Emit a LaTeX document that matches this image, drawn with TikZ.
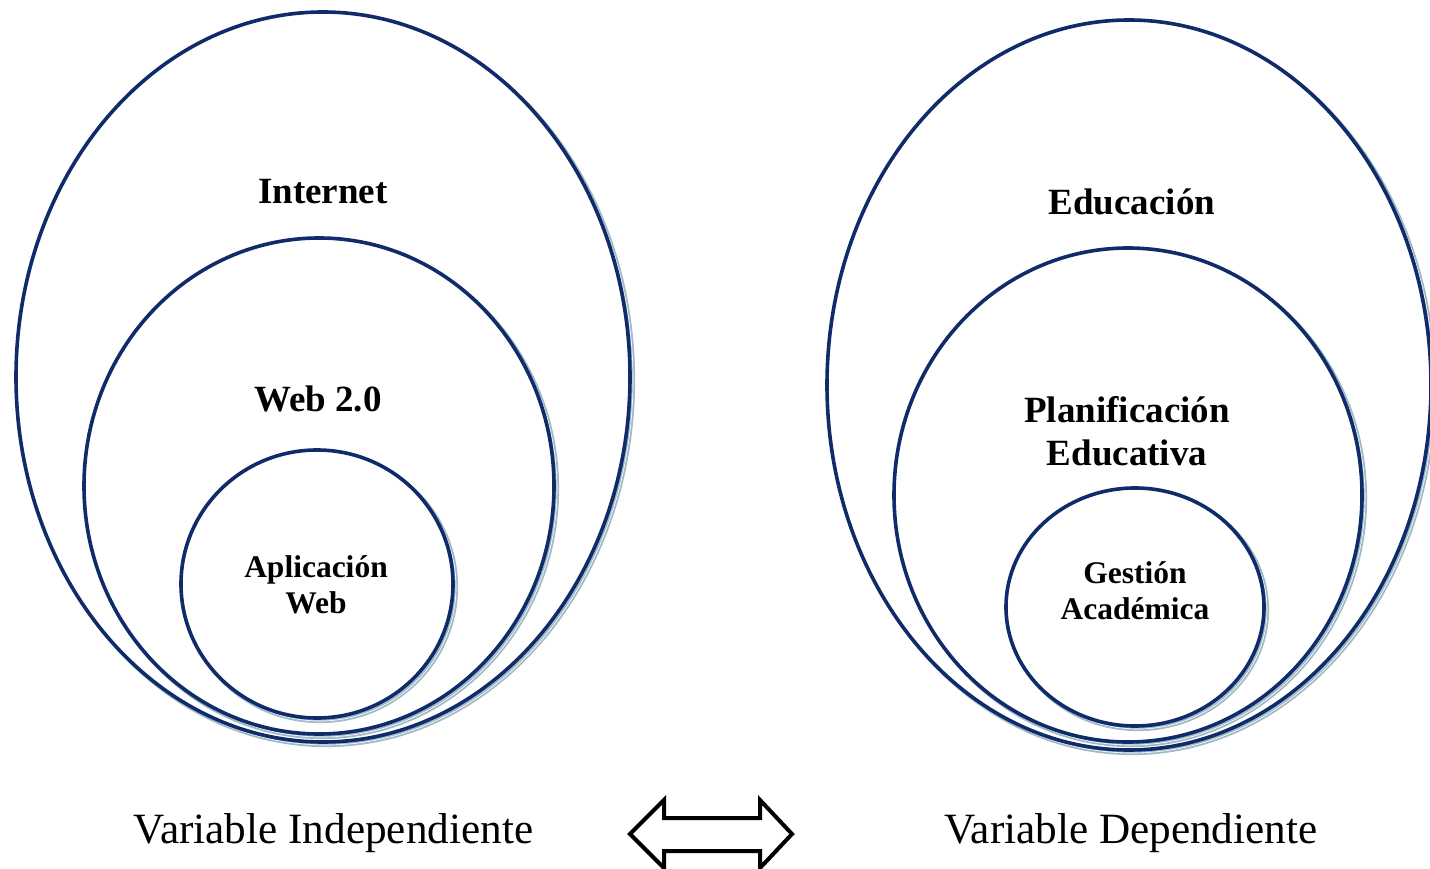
\documentclass[tikz,border=0pt]{standalone}
\usepackage{fontspec}
\setmainfont{Liberation Serif}
\definecolor{navy}{HTML}{0F2B69}
\definecolor{shade}{HTML}{A0B9C6}
\begin{document}
\begin{tikzpicture}[x=1pt,y=-1pt,
  ring/.style={draw=navy, fill=white, line width=3.6pt},
  ringshadow/.style={draw=shade, line width=4.2pt},
  ringstripe/.style={draw=white, line width=0.6pt},
  bigtitle/.style={font=\fontsize{37}{43}\selectfont\bfseries, align=center, inner sep=0pt},
  smalltitle/.style={font=\fontsize{31.5}{36}\selectfont\bfseries, align=center, inner sep=0pt},
  varlabel/.style={font=\fontsize{43.2}{50}\selectfont, anchor=base, inner sep=0pt},
  blockarrow/.style={draw=black, line width=4pt, fill=white, line join=miter}]
\useasboundingbox (0,0) rectangle (1430,869);
\fill[white] (0,0) rectangle (1430,869);
\foreach \cx/\cy/\rx/\ry in {323/377/307/365, 319/486/235/248, 317/584/136/134,
                             1129/385/302/365, 1128/495/234/247, 1135/607/129/119}{
  \draw[ringshadow] (\cx+3,\cy+3) ellipse [x radius=\rx, y radius=\ry];
  \draw[ringstripe] (\cx+3,\cy+3) ellipse [x radius=\rx, y radius=\ry];
  \draw[ring] (\cx,\cy) ellipse [x radius=\rx, y radius=\ry];
}
\node[bigtitle] (internet) at (323,192) {Internet};
\node[bigtitle] (web) at (318,399) {Web 2.0};
\node[smalltitle] (app) at (316,585) {Aplicación\\Web};
\node[bigtitle] (edu) at (1132,202) {Educación};
\node[bigtitle] (plan) at (1127,431) {Planificación\\Educativa};
\node[smalltitle] (gest) at (1135,591) {Gestión\\Académica};
\node[varlabel] (vi) at (333.5,843) {Variable Independiente};
\node[varlabel] (vd) at (1131,843) {Variable Dependiente};
\draw[blockarrow] (630,834) -- (664,800) -- (664,818) -- (760,818) -- (760,800)
  -- (792,834) -- (760,868) -- (760,851) -- (664,851) -- (664,868) -- cycle;
\end{tikzpicture}
\end{document}
